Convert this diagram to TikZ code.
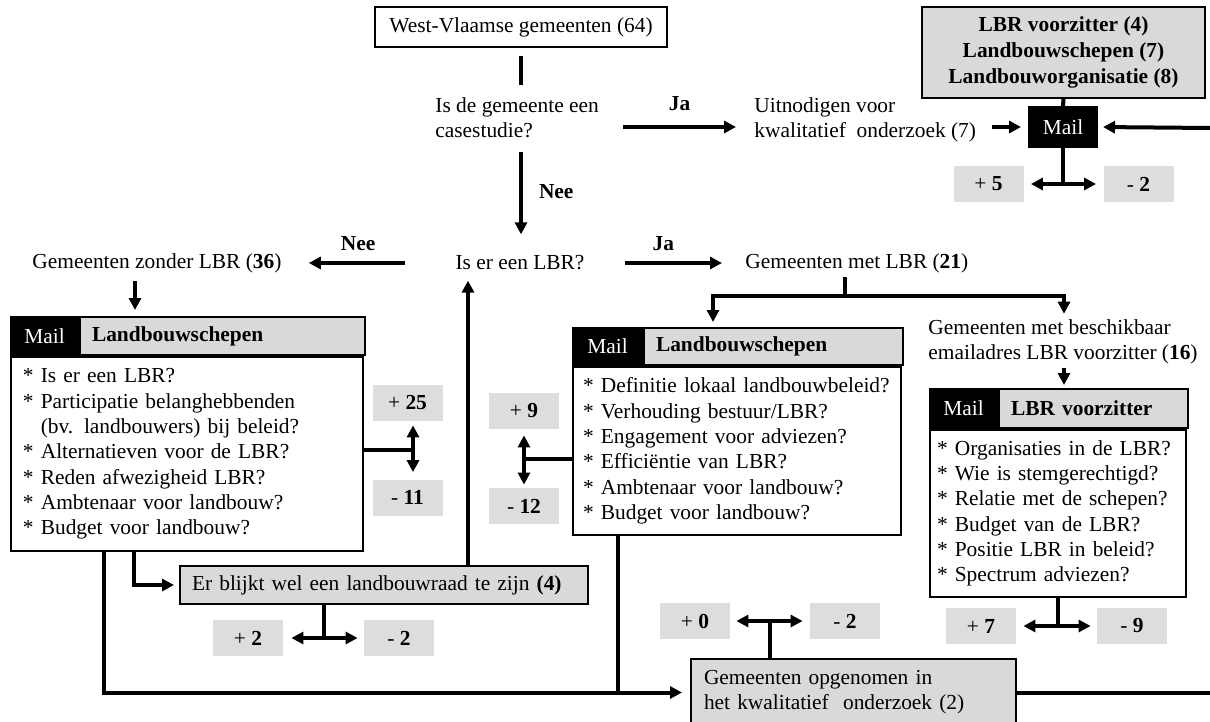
\documentclass[tikz,border=0pt]{standalone}
\usepackage{fontspec}
\setmainfont{Liberation Serif}
\usepackage{tikz}
\usetikzlibrary{arrows.meta, positioning}
\tikzset{>={Triangle[length=6pt,width=6pt]}}
\definecolor{boxgray}{HTML}{D9D9D9}
\definecolor{scoregray}{HTML}{DDDDDD}
\newcommand{\basefont}{\fontsize{10.7pt}{12.65pt}\selectfont}
\tikzset{
  txt/.style={inner sep=0pt, align=left},
  lbl/.style={inner sep=0pt, font=\basefont\bfseries},
  conn/.style={line width=2pt},
  frame/.style={draw, line width=1pt, fill=white},
  graybox/.style={draw, line width=1pt, fill=boxgray},
  mailtag/.style={draw, line width=1pt, fill=black, text=white},
  score/.style={fill=scoregray, minimum width=35pt, minimum height=18pt, inner sep=0pt}
}

\begin{document}
\begin{tikzpicture}[x=0.5pt, y=-0.5pt, font=\basefont]
\useasboundingbox (0,0) rectangle (1210,722);

\node[frame, minimum width=146pt, minimum height=20pt] (westvl) at (521,27) {West-Vlaamse gemeenten (64)};
\node[txt, anchor=west] (casus) at (435,118) {Is de gemeente een\\casestudie?};
\node[txt, anchor=west] (uitnod) at (754,120) {Uitnodigen voor\\kwalitatief~ onderzoek (7)};
\node[mailtag, minimum width=34pt, minimum height=20pt] (mailtop) at (1063,127) {Mail};
\node[graybox, align=center, minimum width=141.5pt, minimum height=45.5pt, font=\fontsize{10.7pt}{13pt}\selectfont\bfseries] (contact) at (1063.5,52.5) {LBR voorzitter (4)\\Landbouwschepen (7)\\Landbouworganisatie (8)};
\node[score] (plus5) at (988.5,184) {+ \textbf{5}};
\node[score] (min2a) at (1138.5,184) {- \textbf{2}};
\coordinate (rand) at (1210,128);

\node[txt] (islbr) at (520,263) {Is er een LBR?};
\node[txt, anchor=west] (zonder) at (32,263) {Gemeenten zonder LBR (\textbf{36})};
\node[txt, anchor=west] (met) at (745,263) {Gemeenten met LBR (\textbf{21})};
\coordinate (split) at (845,296);
\coordinate (splitL) at (713,296);
\coordinate (splitR) at (1064,296);
\node[txt, anchor=west] (beschik) at (928,342) {Gemeenten met beschikbaar\\emailadres LBR voorzitter (\textbf{16})};

\node[mailtag, anchor=north west, minimum width=33.5pt, minimum height=19pt] (lsMail) at (10,316) {Mail};
\node[graybox, anchor=north west, text width=130.5pt, inner xsep=6pt, minimum height=19pt, align=left] (lsHead) at (lsMail.north east) {\textbf{Landbouwschepen}};
\node[frame, anchor=north west, text width=164pt, inner xsep=6pt, minimum height=97pt, align=left] (lsBody) at (lsMail.south west) {{*} Is er een LBR?\\
{*} Participatie belanghebbenden\\
\phantom{* }(bv. landbouwers) bij beleid?\\
{*} Alternatieven voor de LBR?\\
{*} Reden afwezigheid LBR?\\
{*} Ambtenaar voor landbouw?\\
{*} Budget voor landbouw?};
\node[score] (plus25) at (407.5,403) {+ \textbf{25}};
\node[score] (min11) at (407.5,497.5) {- \textbf{11}};
\coordinate (lsdrop) at ([xshift=62.5pt]lsMail.north west);
\coordinate (lsturn) at ([xshift=62pt]lsBody.south west);
\coordinate (lsout) at ([xshift=47pt]lsBody.south west);

\node[graybox, anchor=north west, text width=192pt, inner xsep=6pt, minimum height=19pt, align=left] (blijkt) at (179,565) {Er blijkt wel een landbouwraad te zijn \textbf{(4)}};
\node[score] (plus2) at (248,638) {+ \textbf{2}};
\node[score] (min2b) at (399,638) {- \textbf{2}};
\coordinate (upfoot) at ([xshift=144.5pt]blijkt.north west);

\node[mailtag, anchor=north west, minimum width=34.5pt, minimum height=18.5pt] (msMail) at (572,327) {Mail};
\node[graybox, anchor=north west, text width=117.5pt, inner xsep=6pt, minimum height=18.5pt, align=left] (msHead) at (msMail.north east) {\textbf{Landbouwschepen}};
\node[frame, anchor=north west, text width=154pt, inner xsep=5pt, minimum height=84pt, align=left] (msBody) at (msMail.south west) {{*} Definitie lokaal landbouwbeleid?\\
{*} Verhouding bestuur/LBR?\\
{*} Engagement voor adviezen?\\
{*} Efficiëntie van LBR?\\
{*} Ambtenaar voor landbouw?\\
{*} Budget voor landbouw?};
\node[score] (plus9) at (524,411) {+ \textbf{9}};
\node[score] (min12) at (524,506) {- \textbf{12}};
\coordinate (msout) at ([xshift=23pt]msBody.south west);

\node[mailtag, anchor=north west, minimum width=33.5pt, minimum height=19.5pt] (rsMail) at (929,388) {Mail};
\node[graybox, anchor=north west, text width=82.5pt, inner xsep=6pt, minimum height=19.5pt, align=left] (rsHead) at (rsMail.north east) {\textbf{LBR voorzitter}};
\node[frame, anchor=north west, text width=121pt, inner xsep=3.5pt, minimum height=83.5pt, align=left] (rsBody) at (rsMail.south west) {{*} Organisaties in de LBR?\\
{*} Wie is stemgerechtigd?\\
{*} Relatie met de schepen?\\
{*} Budget van de LBR?\\
{*} Positie LBR in beleid?\\
{*} Spectrum adviezen?};
\node[score] (plus7) at (981,626) {+ \textbf{7}};
\node[score] (min9) at (1132,626) {- \textbf{9}};

\node[graybox, anchor=north west, text width=149.5pt, inner xsep=6.5pt, minimum height=33.5pt, align=left] (opgenomen) at (690,658) {Gemeenten opgenomen in\\het kwalitatief~ onderzoek (2)};
\node[score] (plus0) at (695,621) {+ \textbf{0}};
\node[score] (min2c) at (845,621) {- \textbf{2}};

\draw[conn, shorten <=4pt, shorten >=6pt] (westvl.south) -- (westvl.south |- casus.north);
\draw[conn, ->, shorten <=6.5pt, shorten >=10.5pt] (westvl.south |- casus.south) -- (westvl.south |- islbr.north) node[lbl, pos=0.45, right=8pt] {Nee};
\draw[conn, ->, shorten <=12pt, shorten >=9pt] (casus.east |- mailtop.west) -- (uitnod.west |- mailtop.west) node[lbl, pos=0.52, above=7pt] {Ja};
\draw[conn, ->, shorten <=8pt, shorten >=3.5pt] (uitnod.east |- mailtop.west) -- (mailtop.west);
\draw[conn] (contact.south) -- (mailtop.north);
\draw[conn, ->, shorten >=2.5pt] (rand) -- (mailtop.east);
\draw[conn] (mailtop.south) -- (mailtop.south |- plus5.east);
\draw[conn, <->, shorten <=3.5pt, shorten >=3.5pt] (plus5.east) -- (min2a.west);

\draw[conn, ->, shorten <=25pt, shorten >=13.5pt] (islbr.west) -- (zonder.east) node[lbl, pos=0.56, above=5pt] {Nee};
\draw[conn, ->, shorten <=20pt, shorten >=11.5pt] (islbr.east) -- (met.west) node[lbl, pos=0.49, above=5pt] {Ja};
\draw[conn, shorten <=2pt] (met.south -| split) -- (split);
\draw[conn, ->, shorten >=2.5pt] (split) -| (splitL |- msHead.north);
\draw[conn, ->, shorten >=2.75pt] (split) -| (splitR |- beschik.north);
\draw[conn, ->, shorten <=1.75pt, shorten >=1.5pt] (splitR |- beschik.south) -- (splitR |- rsHead.north);

\draw[conn, ->, shorten <=4pt, shorten >=3pt] (lsdrop |- zonder.south) -- (lsdrop);
\draw[conn, <->, shorten <=2pt, shorten >=3.5pt] ([xshift=2.75pt]plus25.south) -- ([xshift=2.75pt]min11.north) coordinate[midway] (mid25);
\draw[conn] (lsBody.east |- mid25) -- (mid25);
\draw[conn, ->, shorten >=2.5pt] (lsturn) |- (blijkt.west);
\draw[conn, ->, shorten >=5pt] (upfoot) -- (upfoot |- islbr.south);
\draw[conn, <->, shorten <=4pt, shorten >=3pt] (plus2.east) -- (min2b.west) coordinate[midway] (mid2);
\draw[conn] (blijkt.south -| mid2) -- (mid2);

\draw[conn, <->, shorten <=3pt, shorten >=1.5pt] (plus9.south) -- (min12.north) coordinate[midway] (mid9);
\draw[conn] (msBody.west |- mid9) -- (mid9);

\draw[conn] (rsBody.south) -- (rsBody.south |- plus7.east);
\draw[conn, <->, shorten <=3.5pt, shorten >=3pt] (plus7.east) -- (min9.west);

\draw[conn, <->, shorten <=3pt, shorten >=3.5pt] (plus0.east) -- (min2c.west) coordinate[midway] (mid0);
\draw[conn] (mid0) -- (mid0 |- opgenomen.north);
\draw[conn, ->, shorten >=4pt] (lsout) |- (opgenomen.west);
\draw[conn] (msout) -- (msout |- opgenomen.west);
\draw[conn] (opgenomen.east) -- (opgenomen.east -| rand);
\end{tikzpicture}
\end{document}
